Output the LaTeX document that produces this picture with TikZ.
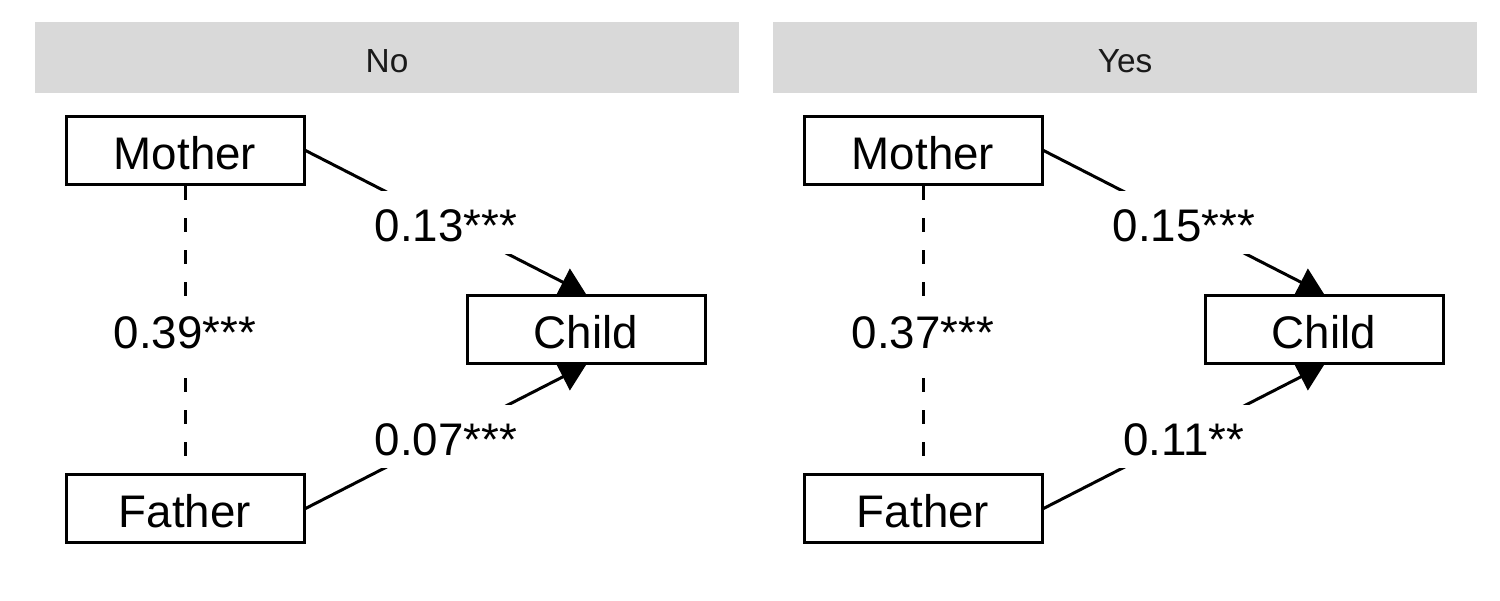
\documentclass[tikz,border=0pt]{standalone}
\usepackage{fontspec}
\setmainfont{Liberation Sans}
\usetikzlibrary{arrows.meta, positioning, backgrounds}
\definecolor{stripgray}{HTML}{D9D9D9}
\definecolor{striptext}{HTML}{1A1A1A}

\begin{document}
\begin{tikzpicture}[>={Triangle[length=0.52cm, width=0.6cm]},
    varbox/.style={draw, rectangle, fill=white, line width=0.06cm, minimum width=4.76cm, minimum height=1.36cm, text height=0.76cm, font=\fontsize{26}{30}\selectfont},
    coef/.style={fill=white, inner sep=7pt, text height=0.76cm, font=\fontsize{26}{30}\selectfont},
    link/.style={line width=0.06cm},
    strip/.style={fill=stripgray, minimum width=14.08cm, minimum height=1.42cm, text height=0.6cm, text=striptext, font=\fontsize{19}{22}\selectfont}]
    \useasboundingbox (0,0) rectangle (30,12);

    \foreach \k/\x/\title/\mc/\fc/\mf in {no/0/No/0.13***/0.07***/0.39***, yes/14.76/Yes/0.15***/0.11**/0.37***} {
        \begin{scope}[xshift=\x cm]
            % Panel strip
            \node[strip] (strip\k) at (7.74, 10.85) {\title};

            % Parents and child
            \node[varbox] (mother\k) at (3.7, 8.99) {Mother};
            \node[varbox, below=5.74cm of mother\k] (father\k) {Father};
            \node[varbox] (child\k) at (11.72, 5.41) {Child};

            % Paths
            \begin{pgfonlayer}{background}
                \draw[link, ->] (mother\k.east) -- node[coef] {\mc} (child\k.north);
                \draw[link, ->] (father\k.east) -- node[coef] {\fc} (child\k.south);
                \draw[link, dash pattern=on 0.28cm off 0.36cm] (mother\k.south) -- node[coef] {\mf} (father\k.north);
            \end{pgfonlayer}
        \end{scope}
    }

\end{tikzpicture}
\end{document}
